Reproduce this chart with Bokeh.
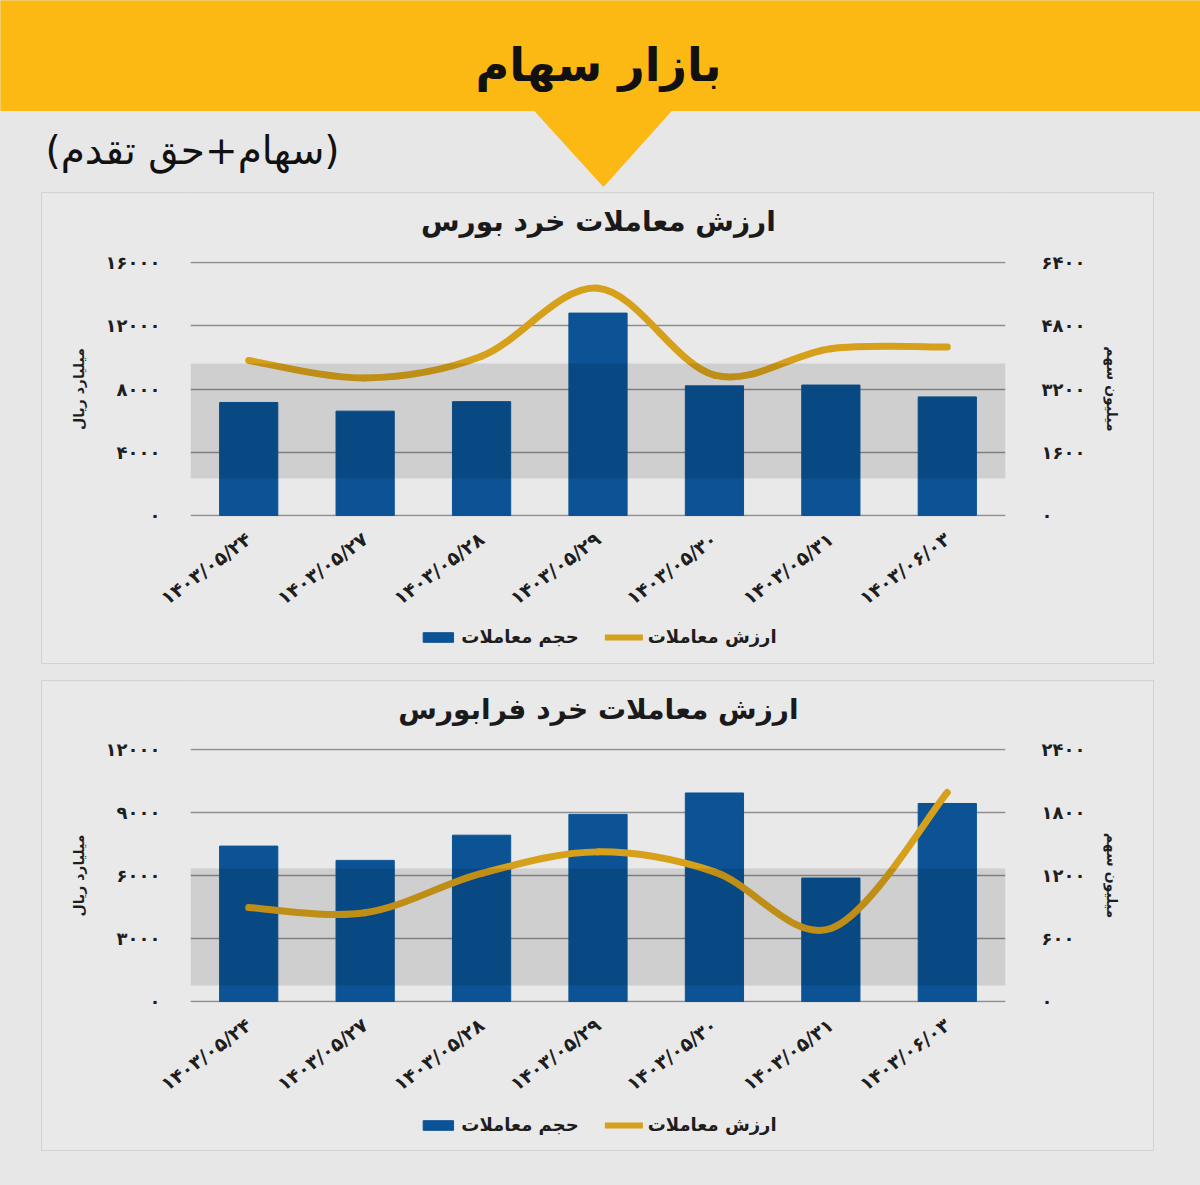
from bokeh.plotting import figure
from bokeh.models import (Range1d, LinearAxis, FixedTicker, CustomJSTickFormatter, Legend,
                          LegendItem, BoxAnnotation, Spacer)
from bokeh.layouts import column, row
from bokeh.core.properties import value
from bokeh.embed import file_html
from bokeh.resources import INLINE

# ---------------- data ----------------
dates = ["۱۴۰۳/۰۵/۲۴", "۱۴۰۳/۰۵/۲۷", "۱۴۰۳/۰۵/۲۸", "۱۴۰۳/۰۵/۲۹",
         "۱۴۰۳/۰۵/۳۰", "۱۴۰۳/۰۵/۳۱", "۱۴۰۳/۰۶/۰۳"]

bourse_volume = [7150, 6600, 7200, 12800, 8200, 8250, 7500]      # left axis (bars)
bourse_value = [3920, 3480, 4030, 5750, 3550, 4220, 4260]        # right axis (line)
farabourse_volume = [7400, 6720, 7920, 8910, 9930, 5880, 9430]   # left axis (bars)
farabourse_value = [895, 845, 1220, 1425, 1235, 695, 1990]       # right axis (line)

bourse_left_ticks = [0, 4000, 8000, 12000, 16000]
bourse_right_ticks = [0, 1600, 3200, 4800, 6400]
fara_left_ticks = [0, 3000, 6000, 9000, 12000]
fara_right_ticks = [0, 600, 1200, 1800, 2400]

header_title = "بازار سهام"
header_sub = "(سهام+حق تقدم)"
title_bourse = "ارزش معاملات خرد بورس"
title_fara = "ارزش معاملات خرد فرابورس"
left_label = "میلیارد ریال"
right_label = "میلیون سهم"
legend_bar = "حجم معاملات"
legend_line = "ارزش معاملات"

FONT = "DejaVu Sans"
PAGE = "#E7E7E7"
PANEL = "#E9E9E9"
YELLOW = "#FDB913"
BLUE = "#0B5394"
GOLD = "#D6A01A"
INK = "#1e1e1e"

fa_fmt = CustomJSTickFormatter(code="""
const d = "۰۱۲۳۴۵۶۷۸۹";
return String(Math.round(tick)).replace(/[0-9]/g, c => d[+c]);
""")


def smooth_segments(vals):
    """Catmull-Rom -> cubic bezier control points for each segment."""
    n = len(vals)
    xs = list(range(n))
    seg = dict(x0=[], y0=[], x1=[], y1=[], cx0=[], cy0=[], cx1=[], cy1=[])
    for i in range(n - 1):
        p0 = (xs[max(i - 1, 0)], vals[max(i - 1, 0)])
        p1 = (xs[i], vals[i])
        p2 = (xs[i + 1], vals[i + 1])
        p3 = (xs[min(i + 2, n - 1)], vals[min(i + 2, n - 1)])
        seg["x0"].append(p1[0]); seg["y0"].append(p1[1])
        seg["x1"].append(p2[0]); seg["y1"].append(p2[1])
        seg["cx0"].append(p1[0] + (p2[0] - p0[0]) / 6)
        seg["cy0"].append(p1[1] + (p2[1] - p0[1]) / 6)
        seg["cx1"].append(p2[0] - (p3[0] - p1[0]) / 6)
        seg["cy1"].append(p2[1] - (p3[1] - p1[1]) / 6)
    return seg


def make_title(text, height):
    t = figure(width=1111, height=height, x_range=Range1d(0, 1111), y_range=Range1d(height, 0),
               output_backend="svg", toolbar_location=None, min_border=0,
               background_fill_color=PANEL, border_fill_color=PANEL, outline_line_color=None)
    t.axis.visible = False
    t.grid.visible = False
    t.text(x=[556], y=[28], text=[text], text_align="center", text_baseline="middle",
           text_font=value(FONT), text_font_style="bold", text_font_size="28px",
           text_color="#1a1a1a")
    return t


def make_chart(bars, line, lticks, rticks, height, top_border, frame_h, band):
    idx = list(range(len(dates)))
    lpad = lticks[-1] / frame_h          # one pixel of head-room so edge grid lines show
    rpad = rticks[-1] / frame_h
    p = figure(width=1111, height=height, x_range=Range1d(-0.5, len(dates) - 0.5),
               y_range=Range1d(lticks[0] - lpad, lticks[-1] + lpad),
               output_backend="svg", toolbar_location=None,
               min_border_left=148, min_border_right=148,
               min_border_top=top_border - 1,
               min_border_bottom=height - top_border - frame_h - 1,
               background_fill_color=PANEL, border_fill_color=PANEL,
               outline_line_color=None)
    p.extra_y_ranges = {"right": Range1d(rticks[0] - rpad, rticks[-1] + rpad)}

    ya = p.yaxis[0]
    ya.ticker = FixedTicker(ticks=lticks)
    ya.formatter = fa_fmt
    ya.axis_label = left_label
    ra = LinearAxis(y_range_name="right", ticker=FixedTicker(ticks=rticks),
                    formatter=fa_fmt, axis_label=right_label)
    p.add_layout(ra, "right")

    for ax in (ya, ra):
        ax.axis_line_color = None
        ax.major_tick_line_color = None
        ax.minor_tick_line_color = None
        ax.major_label_text_font = FONT
        ax.major_label_text_font_style = "bold"
        ax.major_label_text_font_size = "18px"
        ax.major_label_text_color = INK
        ax.axis_label_text_font = FONT
        ax.axis_label_text_font_style = "bold"
        ax.axis_label_text_font_size = "14px"
        ax.axis_label_text_color = INK
        ax.axis_label_standoff = 16
    ya.major_label_standoff = 24
    ra.major_label_standoff = 30

    xa = p.xaxis[0]
    xa.ticker = FixedTicker(ticks=idx)
    xa.major_label_overrides = {i: d for i, d in enumerate(dates)}
    xa.major_label_orientation = 0.64
    xa.axis_line_color = None
    xa.major_tick_line_color = None
    xa.minor_tick_line_color = None
    xa.major_label_standoff = 14
    xa.major_label_text_font = FONT
    xa.major_label_text_font_style = "bold"
    xa.major_label_text_font_size = "19px"
    xa.major_label_text_color = INK

    p.xgrid.visible = False
    p.ygrid.ticker = FixedTicker(ticks=lticks)
    p.ygrid.grid_line_color = "#8E8E8E"
    p.ygrid.grid_line_width = 1.6

    p.vbar(x=idx, top=bars, width=0.5, color=BLUE)
    seg = smooth_segments(line)
    p.bezier(x0="x0", y0="y0", x1="x1", y1="y1", cx0="cx0", cy0="cy0", cx1="cx1", cy1="cy1",
             source=seg, y_range_name="right", line_color=GOLD, line_width=7,
             line_cap="round")

    # watermark band
    p.add_layout(BoxAnnotation(bottom=band[0], top=band[1], fill_color="black",
                               fill_alpha=0.11, line_color=None, level="overlay"))
    return p


def make_legend(height):
    lg = figure(width=1111, height=height, x_range=Range1d(0, 1), y_range=Range1d(0, 1),
                output_backend="svg", toolbar_location=None, min_border=0,
                background_fill_color=PANEL, border_fill_color=PANEL, outline_line_color=None)
    lg.axis.visible = False
    lg.grid.visible = False
    # zero-size swatch carriers (draw nothing in the frame, only give the legend its styles)
    r_bar = lg.vbar(x=[0], top=[0], width=0, color=BLUE)
    r_line = lg.line(x=[0], y=[0], line_color=GOLD, line_width=6, line_cap="round")
    legend = Legend(items=[LegendItem(label=legend_bar, renderers=[r_bar]),
                           LegendItem(label=legend_line, renderers=[r_line])],
                    orientation="horizontal", location="top_center",
                    label_text_font=FONT, label_text_font_style="bold",
                    label_text_font_size="18px", label_text_color=INK,
                    glyph_width=38, glyph_height=12, spacing=26, label_standoff=5,
                    background_fill_alpha=0, border_line_color=None, margin=3, padding=2)
    lg.add_layout(legend)
    return lg


# ---------------- header ----------------
hdr = figure(width=1200, height=193, x_range=Range1d(0, 1200), y_range=Range1d(193, 0),
             output_backend="svg", toolbar_location=None, min_border=0,
             background_fill_color=PAGE, border_fill_color=PAGE, outline_line_color=None)
hdr.axis.visible = False
hdr.grid.visible = False
hdr.quad(left=[0], right=[1200], top=[0], bottom=[110], color=YELLOW)
hdr.patch(x=[533, 672, 603], y=[109, 109, 186], color=YELLOW)
hdr.text(x=[598], y=[64], text=[header_title], text_align="center", text_baseline="middle",
         text_font=value(FONT), text_font_style="bold", text_font_size="46px",
         text_color="#111111")
hdr.text(x=[45], y=[150], text=[header_sub], text_align="left", text_baseline="middle",
         text_font=value(FONT), text_font_size="39px", text_color="#111111")

t1 = make_title(title_bourse, 50)
c1 = make_chart(bourse_volume, bourse_value, bourse_left_ticks,
                bourse_right_ticks, 380, 19, 253, (2340, 9610))
l1 = make_legend(40)
t2 = make_title(title_fara, 50)
c2 = make_chart(farabourse_volume, farabourse_value, fara_left_ticks,
                fara_right_ticks, 380, 18, 252, (760, 6330))
l2 = make_legend(39)

panel_style = {"box-shadow": "0 0 0 1px #D2D2D2"}
p1 = column(t1, c1, l1, styles=panel_style)
p2 = column(t2, c2, l2, styles=panel_style)

layout = column(
    hdr,
    row(Spacer(width=42, height=470), p1, Spacer(width=47, height=470)),
    Spacer(width=1200, height=18),
    row(Spacer(width=42, height=469), p2, Spacer(width=47, height=469)),
    Spacer(width=1200, height=35),
    styles={"background-color": PAGE},
)

open("out.html", "w").write(file_html(layout, INLINE))
